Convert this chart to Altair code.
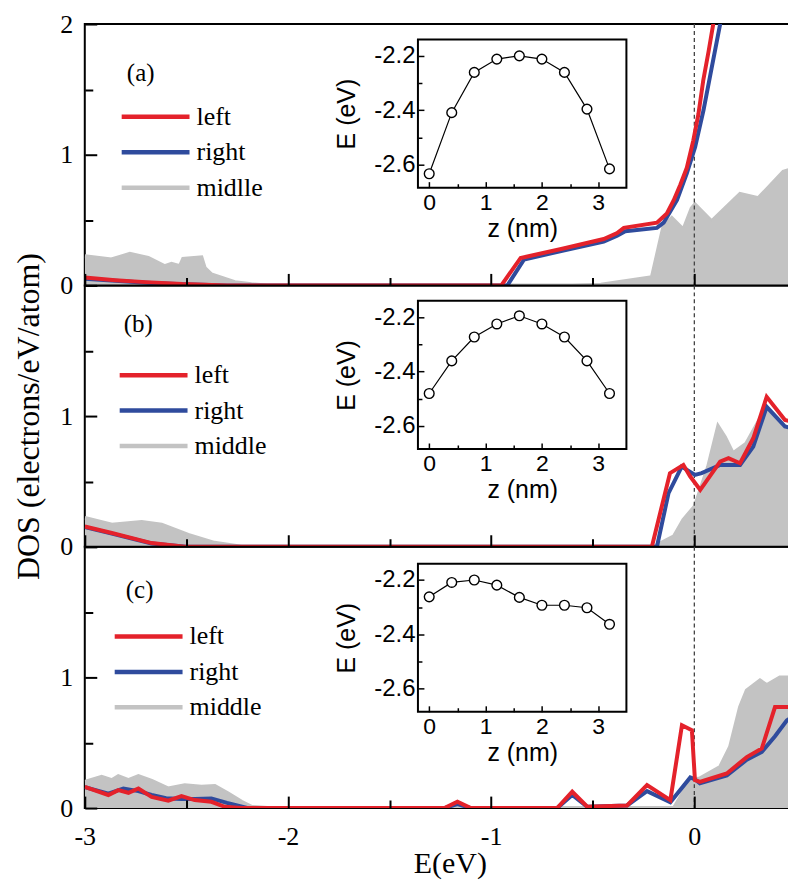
import altair as alt
import pandas as pd

SERIF = "Liberation Serif"
SANS = "Liberation Sans"
RED, BLUE, GRAY = "#e4222b", "#2f4b9d", "#c3c3c3"

# ---------------- axes / domains ----------------
E_DOMAIN = [-3.0, 0.4757]
DOS_DOMAIN = [0.0, 2.0]
Z_DOMAIN = [-0.2, 3.5]
EI_DOMAIN = [-2.685, -2.14]
X_TICKS = [-3, -2.5, -2, -1.5, -1, -0.5, 0]
Y_TICKS = [0, 0.5, 1, 1.5, 2]
Z_TICKS = [0, 0.5, 1, 1.5, 2, 2.5, 3]
EI_TICKS = [-2.6, -2.5, -2.4, -2.3, -2.2]
FERMI = [0.0]

SERIES = [["left", "right", "midlle"], ["left", "right", "middle"], ["left", "right", "middle"]]
TAGS = ["(a)", "(b)", "(c)"]
TAG_E = [-2.725, -2.737, -2.73]
TAG_DOS = [1.622, 1.702, 1.672]

# ---------------- inset data ----------------
Z_POS = [0.0, 0.4, 0.8, 1.2, 1.6, 2.0, 2.4, 2.8, 3.2]
EIG_A = [-2.634, -2.409, -2.261, -2.212, -2.200, -2.212, -2.261, -2.396, -2.616]
EIG_B = [-2.481, -2.361, -2.273, -2.225, -2.195, -2.225, -2.273, -2.361, -2.481]
EIG_C = [-2.262, -2.209, -2.200, -2.219, -2.264, -2.293, -2.293, -2.302, -2.363]

# ---------------- panel (a) DOS ----------------
A_LEFT_E = [-3.0, -2.85, -2.7, -2.52, -2.3, -0.95, -0.855, -0.65, -0.446, -0.38, -0.347, -0.184,
            -0.135, -0.102, -0.069, -0.037, -0.005, 0.02, 0.044, 0.07, 0.093, 0.15]
A_LEFT_V = [0.06, 0.04, 0.025, 0.01, 0.0, 0.0, 0.21, 0.28, 0.355, 0.40, 0.44, 0.48,
            0.55, 0.65, 0.77, 0.90, 1.11, 1.31, 1.57, 1.79, 2.0, 2.5]
A_RIGHT_E = [-3.0, -2.85, -2.7, -2.52, -2.3, -0.92, -0.838, -0.65, -0.446, -0.38, -0.34, -0.184,
             -0.151, -0.085, -0.037, 0.004, 0.045, 0.086, 0.127, 0.19]
A_RIGHT_V = [0.05, 0.035, 0.02, 0.008, 0.0, 0.0, 0.198, 0.265, 0.335, 0.38, 0.415, 0.44,
             0.48, 0.654, 0.857, 1.06, 1.34, 1.67, 2.0, 2.5]
A_MID_E = [-3.0, -2.869, -2.778, -2.688, -2.606, -2.573, -2.532, -2.516, -2.426, -2.41, -2.377,
           -2.262, -2.18, -2.1, -0.6, -0.46, -0.209, -0.152, -0.111, -0.054, -0.013, 0.003,
           0.085, 0.11, 0.225, 0.315, 0.438, 0.5]
A_MID_V = [0.223, 0.198, 0.241, 0.21, 0.147, 0.165, 0.147, 0.203, 0.215, 0.134, 0.084,
           0.025, 0.008, 0.0, 0.0, 0.005, 0.063, 0.45, 0.515, 0.426, 0.59, 0.62,
           0.49, 0.527, 0.70, 0.667, 0.87, 0.9]

# ---------------- panel (b) DOS ----------------
B_LEFT_E = [-3.0, -2.867, -2.671, -2.51, -0.209, -0.12, -0.054, -0.02, 0.029, 0.127, 0.168,
            0.225, 0.29, 0.356, 0.446, 0.5]
B_LEFT_V = [0.155, 0.105, 0.028, 0.0, 0.0, 0.563, 0.626, 0.537, 0.435, 0.651, 0.677,
            0.639, 0.83, 1.147, 0.97, 0.95]
B_RIGHT_E = [-3.0, -2.867, -2.671, -2.5, -0.184, -0.127, -0.062, 0.003, 0.036, 0.127, 0.225,
             0.29, 0.356, 0.446, 0.5]
B_RIGHT_V = [0.15, 0.10, 0.025, 0.0, 0.0, 0.41, 0.613, 0.55, 0.563, 0.626, 0.626,
             0.766, 1.07, 0.92, 0.9]
B_MID_E = [-3.0, -2.867, -2.72, -2.622, -2.491, -2.362, -2.23, -0.2, -0.1, -0.054, 0.003,
           0.068, 0.117, 0.15, 0.19, 0.256, 0.356, 0.446, 0.5]
B_MID_V = [0.22, 0.168, 0.19, 0.168, 0.09, 0.03, 0.0, 0.0, 0.08, 0.206, 0.31,
           0.613, 0.92, 0.84, 0.715, 0.79, 1.07, 0.92, 0.9]

# ---------------- panel (c) DOS ----------------
C_LEFT_E = [-3.0, -2.884, -2.835, -2.785, -2.736, -2.671, -2.589, -2.524, -2.459, -2.377, -2.311,
            -2.229, -1.23, -1.166, -1.10, -0.675, -0.601, -0.527, -0.331, -0.233, -0.118,
            -0.061, -0.012, 0.003, 0.027, 0.16, 0.258, 0.332, 0.397, 0.455, 0.5]
C_LEFT_V = [0.163, 0.1, 0.137, 0.117, 0.15, 0.086, 0.056, 0.092, 0.061, 0.048, 0.01,
            0.0, 0.0, 0.048, 0.0, 0.0, 0.125, 0.01, 0.02, 0.176, 0.061,
            0.634, 0.595, 0.214, 0.2, 0.265, 0.39, 0.456, 0.773, 0.773, 0.77]
C_RIGHT_E = [-3.0, -2.884, -2.81, -2.736, -2.671, -2.6, -2.524, -2.459, -2.377, -2.3, -2.196,
             -1.23, -1.166, -1.10, -0.675, -0.601, -0.527, -0.331, -0.233, -0.118, -0.02,
             0.003, 0.027, 0.16, 0.258, 0.332, 0.397, 0.455, 0.5]
C_RIGHT_V = [0.16, 0.11, 0.15, 0.13, 0.1, 0.075, 0.07, 0.07, 0.074, 0.04, 0.0,
             0.0, 0.03, 0.0, 0.0, 0.1, 0.01, 0.02, 0.13, 0.045, 0.234,
             0.22, 0.19, 0.25, 0.37, 0.43, 0.55, 0.67, 0.72]
C_MID_E = [-3.0, -2.917, -2.867, -2.835, -2.785, -2.736, -2.671, -2.589, -2.508, -2.426, -2.36,
           -2.295, -2.229, -2.18, -2.1, -0.1, -0.02, 0.027, 0.127, 0.176, 0.225, 0.258,
           0.323, 0.356, 0.421, 0.5]
C_MID_V = [0.2, 0.239, 0.214, 0.244, 0.214, 0.244, 0.209, 0.15, 0.175, 0.163, 0.168,
           0.112, 0.048, 0.01, 0.0, 0.0, 0.214, 0.226, 0.315, 0.468, 0.773, 0.9,
           0.977, 0.94, 1.0, 1.0]

# ---------------- layout (pixels) ----------------
W, H = 708, 262
INSET_X_RANGE = [334, 543]
INSET_BOTTOM = [164, 164, 165.5]
INSET_TOP = [15.5, 15.5, 17]
LEG_X = [57, 55, 50]
LEG_Y = [79, 76, 76]


def tick_dash(test, minor):
    return {"condition": {"test": test, "value": minor}, "value": [1000, 0]}


def x_axis(show):
    kw = dict(values=X_TICKS, orient="bottom", offset=-12, tickSize=12, tickWidth=2,
              tickColor="black", tickDash=tick_dash("datum.value % 1 != 0", [0, 4, 8, 1000]),
              domain=False, grid=False, zindex=1)
    if show:
        kw.update(labels=True,
                  labelExpr="datum.value % 1 == 0 ? (datum.value < 0 ? '-' + format(-datum.value, 'd') : format(datum.value, 'd')) : ''",
                  labelFont=SERIF, labelFontSize=26, labelColor="black", labelPadding=16,
                  labelFlush=False, labelOverlap=False,
                  title="E(eV)", titleFont=SERIF, titleFontSize=30, titleFontWeight="normal",
                  titleColor="black", titlePadding=-1, titleX=366)
    else:
        kw.update(labels=False, title=None)
    return alt.Axis(**kw)


def y_axis(i):
    top_ok = "datum.value <= 2" if i == 0 else "datum.value < 2"
    kw = dict(values=Y_TICKS, orient="left", offset=-12, tickSize=12, tickWidth=2,
              tickColor="black", tickDash=tick_dash("datum.value % 1 != 0", [0, 4, 8, 1000]),
              domain=False, grid=False, zindex=1,
              labelExpr=f"datum.value % 1 == 0 && {top_ok} ? format(datum.value, 'd') : ''",
              labelFont=SERIF, labelFontSize=26, labelColor="black", labelPadding=12,
              labelOverlap=False, labelFlush=False)
    if i == 1:
        kw.update(title="DOS (electrons/eV/atom)", titleFont=SERIF, titleFontSize=32,
                  titleFontWeight="normal", titleColor="black", titlePadding=14)
    else:
        kw.update(title=None)
    return alt.Axis(**kw)


def z_axis(i):
    return alt.Axis(values=Z_TICKS, orient="bottom", offset=INSET_BOTTOM[i] - 6 - H, tickSize=6,
                    tickWidth=1.5, tickColor="black",
                    tickDash=tick_dash("datum.value % 1 != 0", [0, 2, 4, 1000]),
                    domain=False, grid=False, zindex=1,
                    labelExpr="datum.value % 1 == 0 ? format(datum.value, 'd') : ''",
                    labelFont=SANS, labelFontSize=23, labelColor="black", labelPadding=4,
                    labelFlush=False, labelOverlap=False,
                    title="z (nm)", titleFont=SANS, titleFontSize=25, titleFontWeight="normal",
                    titleColor="black", titlePadding=2)


def ei_axis():
    return alt.Axis(values=EI_TICKS, orient="left", offset=-(INSET_X_RANGE[0] + 6), tickSize=6,
                    tickWidth=1.5, tickColor="black",
                    tickDash=tick_dash("round(abs(datum.value) * 10) % 2 == 1", [0, 2, 4, 1000]),
                    domain=False, grid=False, zindex=1,
                    labelExpr="round(abs(datum.value) * 10) % 2 == 0 ? '-' + format(abs(datum.value), '.1f') : ''",
                    labelFont=SANS, labelFontSize=24, labelColor="black", labelPadding=3,
                    labelFlush=False, labelOverlap=False,
                    title="E (eV)", titleFont=SANS, titleFontSize=25, titleFontWeight="normal",
                    titleColor="black", titlePadding=14)


def panel(i, curves, eig):
    names = SERIES[i]
    (le, lv), (re, rv), (me, mv) = curves
    xs = alt.Scale(domain=E_DOMAIN, nice=False, zero=False)
    ys = alt.Scale(domain=DOS_DOMAIN, nice=False, zero=False)
    X = alt.X("E:Q", scale=xs, axis=x_axis(i == 2))
    Y = alt.Y("DOS:Q", scale=ys, axis=y_axis(i))
    color = alt.Color("series:N",
                      scale=alt.Scale(domain=names, range=[RED, BLUE, GRAY]),
                      legend=alt.Legend(orient="none", legendX=LEG_X[i], legendY=LEG_Y[i], title=None,
                                        symbolType="M-3,0H3", symbolSize=514, symbolStrokeWidth=4.5,
                                        labelFont=SERIF, labelFontSize=26, labelColor="black",
                                        labelOffset=27, rowPadding=8.5, padding=0))

    def df(e, v, name):
        return pd.DataFrame({"E": e, "DOS": v, "series": name})

    mid_df = df(me, mv, names[2])
    mid_line = alt.Chart(mid_df).mark_line(strokeWidth=4, clip=True).encode(x=X, y=Y, color=color)
    area = alt.Chart(mid_df).mark_area(color=GRAY, opacity=1, clip=True).encode(x=X, y=Y)
    rule = alt.Chart(pd.DataFrame({"E": FERMI})).mark_rule(
        color="#444444", strokeDash=[4, 3], strokeWidth=1.3).encode(x=X)
    right_line = alt.Chart(df(re, rv, names[1])).mark_line(strokeWidth=4, clip=True).encode(
        x=X, y=Y, color=color)
    left_line = alt.Chart(df(le, lv, names[0])).mark_line(strokeWidth=4, clip=True).encode(
        x=X, y=Y, color=color)
    tag = alt.Chart(pd.DataFrame({"E": [TAG_E[i]], "DOS": [TAG_DOS[i]], "tag": [TAGS[i]]})).mark_text(
        font=SERIF, fontSize=25, align="center", baseline="middle", color="black").encode(
        x=X, y=Y, text="tag:N")
    main = alt.layer(mid_line, area, rule, right_line, left_line, tag)

    zs = alt.Scale(domain=Z_DOMAIN, range=INSET_X_RANGE, nice=False, zero=False)
    es = alt.Scale(domain=EI_DOMAIN, range=[INSET_BOTTOM[i], INSET_TOP[i]], nice=False, zero=False)
    ZX = alt.X("z:Q", scale=zs, axis=z_axis(i))
    EY = alt.Y("e:Q", scale=es, axis=ei_axis())
    frame_df = pd.DataFrame({"z": [Z_DOMAIN[0]], "z2": [Z_DOMAIN[1]],
                             "e": [EI_DOMAIN[0]], "e2": [EI_DOMAIN[1]]})
    frame = alt.Chart(frame_df).mark_rect(fill="white", stroke="black", strokeWidth=2).encode(
        x=ZX, x2="z2:Q", y=EY, y2="e2:Q")
    ins_df = pd.DataFrame({"z": Z_POS, "e": eig})
    ins_line = alt.Chart(ins_df).mark_line(color="black", strokeWidth=1.2).encode(x=ZX, y=EY)
    ins_pts = alt.Chart(ins_df).mark_point(shape="circle", filled=True, fill="white", stroke="black",
                                           strokeWidth=1.4, size=95, opacity=1).encode(x=ZX, y=EY)
    inset = alt.layer(frame, ins_line, ins_pts)

    return alt.layer(main, inset).resolve_scale(x="independent", y="independent").properties(
        width=W, height=H)


pa = panel(0, [(A_LEFT_E, A_LEFT_V), (A_RIGHT_E, A_RIGHT_V), (A_MID_E, A_MID_V)], EIG_A)
pb = panel(1, [(B_LEFT_E, B_LEFT_V), (B_RIGHT_E, B_RIGHT_V), (B_MID_E, B_MID_V)], EIG_B)
pc = panel(2, [(C_LEFT_E, C_LEFT_V), (C_RIGHT_E, C_RIGHT_V), (C_MID_E, C_MID_V)], EIG_C)

chart = alt.vconcat(pa, pb, pc, spacing=0, bounds="flush").resolve_scale(
    color="independent").configure_view(stroke="black", strokeWidth=2).properties(
    padding={"left": 11, "top": 9, "right": -4, "bottom": 0})

chart.save("out.html", embed_options={"renderer": "svg", "actions": False})
